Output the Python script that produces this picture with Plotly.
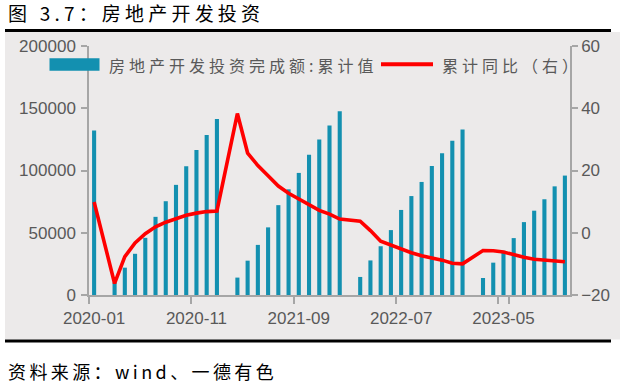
import plotly.graph_objects as go

# ---------------- data ----------------
months = [
    "2020-01", "2020-02", "2020-03", "2020-04", "2020-05", "2020-06", "2020-07", "2020-08",
    "2020-09", "2020-10", "2020-11", "2020-12", "2021-01", "2021-02", "2021-03", "2021-04",
    "2021-05", "2021-06", "2021-07", "2021-08", "2021-09", "2021-10", "2021-11", "2021-12",
    "2022-01", "2022-02", "2022-03", "2022-04", "2022-05", "2022-06", "2022-07", "2022-08",
    "2022-09", "2022-10", "2022-11", "2022-12", "2023-01", "2023-02", "2023-03", "2023-04",
    "2023-05", "2023-06", "2023-07", "2023-08", "2023-09", "2023-10", "2023-11",
]
invest_cum = [
    132194, None, 10115, 21963, 33103, 45920, 62780, 75325,
    88454, 103484, 116556, 128492, 141443, None, 13986, 27576,
    40240, 54318, 72179, 84895, 98060, 112568, 124934, 136084,
    147602, None, 14499, 27765, 39154, 52134, 68314, 79462,
    90809, 103559, 113945, 123863, 132895, None, 13669, 25974,
    35514, 45701, 58550, 67717, 76900, 87269, 95922,
]
yoy_cum = [
    9.9, None, -16.3, -7.7, -3.3, -0.3, 1.9, 3.4,
    4.6, 5.6, 6.3, 6.8, 7.0, None, 38.3, 25.6,
    21.6, 18.3, 15.0, 12.7, 10.9, 8.8, 7.2, 6.0,
    4.4, None, 3.7, 0.7, -2.7, -4.0, -5.4, -6.4,
    -7.4, -8.0, -8.8, -9.8, -10.0, None, -5.7, -5.8,
    -6.2, -7.2, -7.9, -8.5, -8.8, -9.1, -9.3,
]
x_tick_labels = ["2020-01", "2020-11", "2021-09", "2022-07", "2023-05"]
left_ticks = [0, 50000, 100000, 150000, 200000]
right_ticks = [-20, 0, 20, 40, 60]

bar_name = "房地产开发投资完成额:累计值"
line_name = "累计同比（右）"
title_text = "图 3.7：房地产开发投资"
source_text = "资料来源：wind、一德有色"

# ---------------- styles ----------------
W, H = 625, 385
L, R, T, B = 89, 570, 46, 295
BAR = "#1390B0"
RED = "#FF0000"
AXIS = "#A6A6A6"
TXT = "#595959"
PANEL = "#ECEAEA"
NUM_FONT = "Liberation Sans, Arial, sans-serif"
CJK_FONT = "Noto Sans CJK SC, sans-serif"


def px(x):
    return (x - L) / (R - L)


def py(y):
    return (B - y) / (B - T)


fig = go.Figure()
fig.add_bar(x=months, y=invest_cum, name=bar_name, marker_color=BAR,
            marker_line_width=0, width=0.4, yaxis="y")
fig.add_scatter(x=months, y=yoy_cum, name=line_name, mode="lines",
                line=dict(color=RED, width=3.6), connectgaps=True, yaxis="y2")

tickfont = dict(family=NUM_FONT, size=17, color=TXT)

fig.update_layout(
    width=W, height=H,
    margin=dict(l=L, r=W - R, t=T, b=H - B, pad=0),
    paper_bgcolor="white",
    plot_bgcolor="rgba(0,0,0,0)",
    showlegend=False,
    xaxis=dict(type="category", range=[-0.5, 46.5], tickmode="array",
               tickvals=x_tick_labels, ticktext=x_tick_labels, tickson="boundaries",
               ticks="outside", ticklen=7, tickwidth=1.5, tickcolor=AXIS,
               showline=True, linecolor=AXIS, linewidth=1.5, showgrid=False,
               zeroline=False, tickfont=tickfont, tickangle=0, ticklabelstandoff=7),
    yaxis=dict(range=[0, 200000], tickmode="array", tickvals=left_ticks,
               tickformat="d", ticks="outside", ticklen=6, tickwidth=1.5,
               tickcolor=AXIS, showline=True, linecolor=AXIS, linewidth=1.5,
               showgrid=False, zeroline=False, tickfont=tickfont, ticklabelstandoff=2),
    yaxis2=dict(range=[-20, 60], tickmode="array", tickvals=right_ticks,
                overlaying="y", side="right", ticks="outside", ticklen=6,
                tickwidth=1.5, tickcolor=AXIS, showline=True, linecolor=AXIS,
                linewidth=1.5, showgrid=False, zeroline=False, tickfont=tickfont),
)

shapes = [
    # grey panel
    dict(type="rect", xref="paper", yref="paper", x0=px(5), x1=px(620), y0=py(339.5),
         y1=py(32), fillcolor=PANEL, line_width=0, layer="below"),
    # black rules
    dict(type="line", xref="paper", yref="paper", x0=px(5), x1=px(611), y0=py(30.5),
         y1=py(30.5), line=dict(color="black", width=3)),
    dict(type="line", xref="paper", yref="paper", x0=px(5), x1=px(611), y0=py(341),
         y1=py(341), line=dict(color="black", width=3)),
    # legend swatches
    dict(type="rect", xref="paper", yref="paper", x0=px(49.5), x1=px(99.5), y0=py(70.7),
         y1=py(58.3), fillcolor=BAR, line_width=0),
    dict(type="line", xref="paper", yref="paper", x0=px(381), x1=px(433), y0=py(64.3),
         y1=py(64.3), line=dict(color=RED, width=4)),
]
fig.update_layout(shapes=shapes)

annotations = [
    dict(text=title_text, x=px(6), y=py(13), font=dict(family=CJK_FONT, size=19, color="black")),
    dict(text=source_text, x=px(6), y=py(371), font=dict(family=CJK_FONT, size=18, color="black")),
    dict(text=bar_name, x=px(107), y=py(64.5), font=dict(family=CJK_FONT, size=16, color=TXT)),
    dict(text=line_name, x=px(440), y=py(64.5), font=dict(family=CJK_FONT, size=16, color=TXT)),
]
for a in annotations:
    a.update(xref="paper", yref="paper", xanchor="left", yanchor="middle", align="left",
             showarrow=False)
fig.update_layout(annotations=annotations)

post = """
document.body.style.margin = '0';
document.body.style.overflow = 'hidden';
var gd = document.getElementById('{plot_id}');
function applySpacing(){
  var sp = {'0':'4.2px','1':'3.4px','2':'4px','3':'4px'};
  gd.querySelectorAll('g.annotation').forEach(function(g){
    var i = g.getAttribute('data-index');
    var t = g.querySelector('text.annotation-text');
    if (t && sp[i]) { t.style.letterSpacing = sp[i]; }
  });
}
applySpacing();
if (gd.on) { gd.on('plotly_afterplot', applySpacing); }
"""

fig.write_html("out.html", post_script=post, config={"displayModeBar": False})
